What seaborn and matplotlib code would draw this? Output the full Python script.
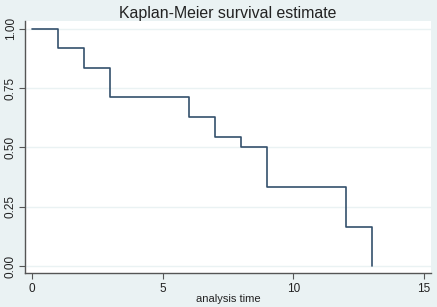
import matplotlib
matplotlib.use("Agg")
import matplotlib.pyplot as plt
import seaborn as sns
import pandas as pd

# Kaplan-Meier step data
times = [0, 1, 2, 3, 6, 7, 8, 9, 12, 13]
survival = [1.0, 0.917, 0.833, 0.714, 0.628, 0.546, 0.502, 0.335, 0.167, 0.0]
x_ticks = [0, 5, 10, 15]
y_ticks = [0.0, 0.25, 0.5, 0.75, 1.0]
y_tick_labels = ["0.00", "0.25", "0.50", "0.75", "1.00"]

df = pd.DataFrame({"time": times, "surv": survival})

sns.set_theme(style="white")
plt.rcParams["font.family"] = ["Liberation Sans", "DejaVu Sans"]

bg = "#EAF2F3"
fig = plt.figure(figsize=(4.37, 3.07), dpi=100, facecolor=bg)
ax = fig.add_axes([25/437, 1 - 273.3/307, (431 - 25)/437, (273.3 - 21)/307])
ax.set_facecolor("white")

sns.lineplot(data=df, x="time", y="surv", drawstyle="steps-post",
             color="#34506c", linewidth=1.2, ax=ax, estimator=None)

ax.set_xlim(-0.27, 15.27)
ax.set_ylim(-0.0295, 1.032)
ax.set_xticks(x_ticks)
ax.set_xticklabels([str(t) for t in x_ticks])
ax.set_yticks(y_ticks)
ax.set_yticklabels(y_tick_labels, rotation=90, va="center")

for y in y_ticks:
    ax.axhline(y, color=bg, linewidth=1.0, zorder=0)

for s in ["top", "right"]:
    ax.spines[s].set_visible(False)
for s in ["left", "bottom"]:
    ax.spines[s].set_color("#555555")
    ax.spines[s].set_linewidth(1.0)

ax.tick_params(axis="both", which="major", direction="out", length=4, width=0.8,
               color="#555555", labelsize=8.5, labelcolor="#222222",
               left=True, bottom=True)
ax.tick_params(axis="x", pad=3)
ax.tick_params(axis="y", pad=2)

ax.set_xlabel("analysis time", fontsize=8, color="#222222", labelpad=-1)
ax.set_ylabel("")
ax.set_title("Kaplan-Meier survival estimate", fontsize=11.4, color="#222222", pad=2)

fig.savefig("out.png", dpi=100, facecolor=bg)
